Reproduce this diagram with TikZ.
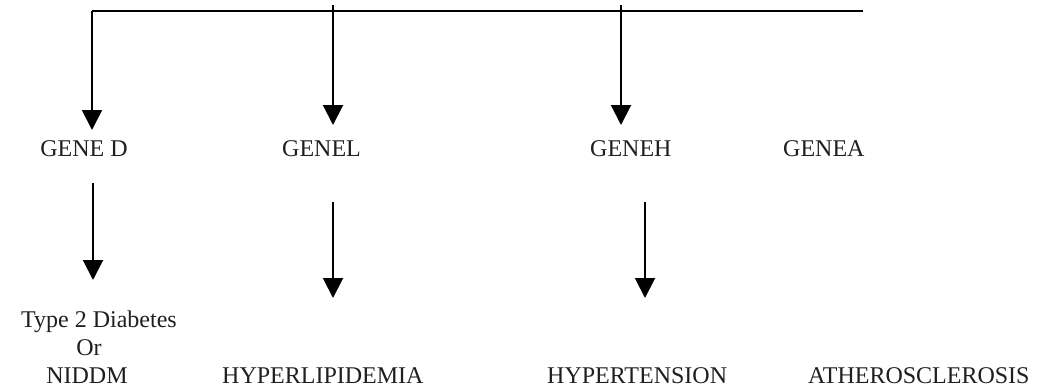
\documentclass[tikz,border=0pt]{standalone}
\usepackage{fontspec}
\setmainfont{Liberation Serif}
\usetikzlibrary{arrows.meta}
\begin{document}
\begin{tikzpicture}[x=1pt,y=-1pt,
  conn/.style={line width=2pt, draw=black},
  arr/.style={conn, -{Triangle[length=20pt,width=20pt]}},
  lbl/.style={inner sep=0pt, anchor=base, text=black!88, font=\fontsize{24}{28}\selectfont},
  wlbl/.style={lbl, anchor=base west},
  ]
\useasboundingbox (0,0) rectangle (1037,389);
% top bus
\coordinate (busL) at (92,11);
\coordinate (busR) at (863,11);
\coordinate (s2) at (333,5);
\coordinate (s3) at (621,5);
\coordinate (t1) at (92,130);
\coordinate (t2) at (333,125);
\coordinate (t3) at (621,125);
\draw[conn] (busR) -- (busL);
\draw[arr] (busL) -- (t1);
\draw[arr] (s2) -- (t2);
\draw[arr] (s3) -- (t3);
% gene labels
\node[lbl] (gd) at (84,156) {GENE D};
\node[wlbl] (gl) at (282,156) {GENEL};
\node[wlbl] (gh) at (590,156) {GENEH};
\node[wlbl] (ga) at (783,156) {GENEA};
% lower arrows
\coordinate (u1) at (93,183);
\coordinate (v1) at (93,280);
\coordinate (u2) at (333,202);
\coordinate (v2) at (333,298);
\coordinate (u3) at (645,202);
\coordinate (v3) at (645,298);
\draw[arr] (u1) -- (v1);
\draw[arr] (u2) -- (v2);
\draw[arr] (u3) -- (v3);
% diseases
\node[lbl] (d1) at (99,327) {Type 2 Diabetes};
\node[lbl] (d2) at (89,355) {Or};
\node[lbl] (d3) at (87,383) {NIDDM};
\node[wlbl] (hl) at (222,383) {HYPERLIPIDEMIA};
\node[wlbl] (ht) at (547,383) {HYPERTENSION};
\node[wlbl] (at) at (808,383) {ATHEROSCLEROSIS};
\end{tikzpicture}
\end{document}
